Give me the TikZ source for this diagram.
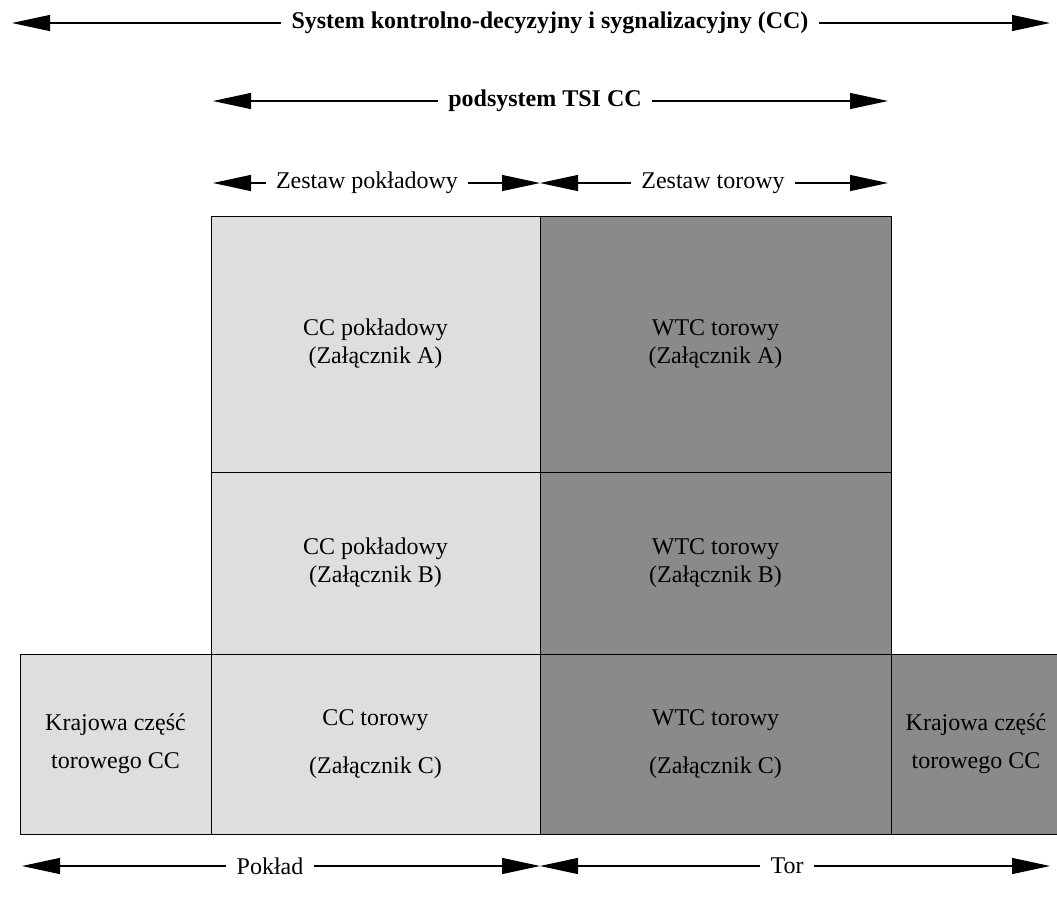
\documentclass[tikz,border=0pt]{standalone}
\usepackage{fontspec}
\setmainfont{Liberation Serif}
\usetikzlibrary{positioning, arrows.meta}

\begin{document}
\begin{tikzpicture}[
  x=0.5pt, y=-0.5pt,
  node distance=0pt,
  light/.style={rectangle, draw, line width=0.5pt, fill=black!13, outer sep=0pt, inner sep=0pt, align=center, font=\large},
  dark/.style={light, fill=black!46},
  lbl/.style={inner sep=5pt, font=\large},
  arr/.style={-{Triangle[length=19pt, width=8pt]}, line width=0.6pt}
]
\useasboundingbox (0,0) rectangle (1057,907);

% on-board column
\node[light, minimum width=164.5pt, minimum height=128pt, anchor=north west] (onbA) at (211,216) {CC pokładowy\\(Załącznik A)};
\node[light, minimum width=164.5pt, minimum height=91pt, below=of onbA] (onbB) {CC pokładowy\\(Załącznik B)};
\node[light, minimum width=164.5pt, minimum height=90pt, below=of onbB] (onbC) {CC torowy\\[10pt](Załącznik C)};
\node[light, minimum width=95.5pt, minimum height=90pt, left=of onbC] (natL) {Krajowa część\\[5pt]torowego CC};

% trackside column
\node[dark, minimum width=175.5pt, minimum height=128pt, right=of onbA] (trkA) {WTC torowy\\(Załącznik A)};
\node[dark, minimum width=175.5pt, minimum height=91pt, below=of trkA] (trkB) {WTC torowy\\(Załącznik B)};
\node[dark, minimum width=175.5pt, minimum height=90pt, below=of trkB] (trkC) {WTC torowy\\[10pt](Załącznik C)};
\node[dark, minimum width=85pt, minimum height=90pt, right=of trkC] (natR) {Krajowa część\\[5pt]torowego CC};

% labels with arrows
\node[lbl, font=\large\bfseries] (cc) at (550,23) {System kontrolno-decyzyjny i sygnalizacyjny (CC)};
\node[lbl, font=\large\bfseries] (tsi) at (545,101) {podsystem TSI CC};
\node[lbl] (zpok) at (367,183) {Zestaw pokładowy};
\node[lbl] (ztor) at (713,183) {Zestaw torowy};
\node[lbl] (pok) at (270,866) {Pokład};
\node[lbl] (tor) at (787,866) {Tor};

\coordinate (ccL) at (12,23);
\coordinate (ccR) at (1050,23);
\coordinate (tsiL) at (213,101);
\coordinate (tsiR) at (888,101);
\coordinate (zL) at (213,183);
\coordinate (zM) at (540,183);
\coordinate (zR) at (888,183);
\coordinate (bL) at (22,866);
\coordinate (bM) at (540,866);
\coordinate (bR) at (1050,866);

\draw[arr] (cc.west) -- (ccL);
\draw[arr] (cc.east) -- (ccR);
\draw[arr] (tsi.west) -- (tsiL);
\draw[arr] (tsi.east) -- (tsiR);
\draw[arr] (zpok.west) -- (zL);
\draw[arr] (zpok.east) -- (zM);
\draw[arr] (ztor.west) -- (zM);
\draw[arr] (ztor.east) -- (zR);
\draw[arr] (pok.west) -- (bL);
\draw[arr] (pok.east) -- (bM);
\draw[arr] (tor.west) -- (bM);
\draw[arr] (tor.east) -- (bR);

\end{tikzpicture}
\end{document}
